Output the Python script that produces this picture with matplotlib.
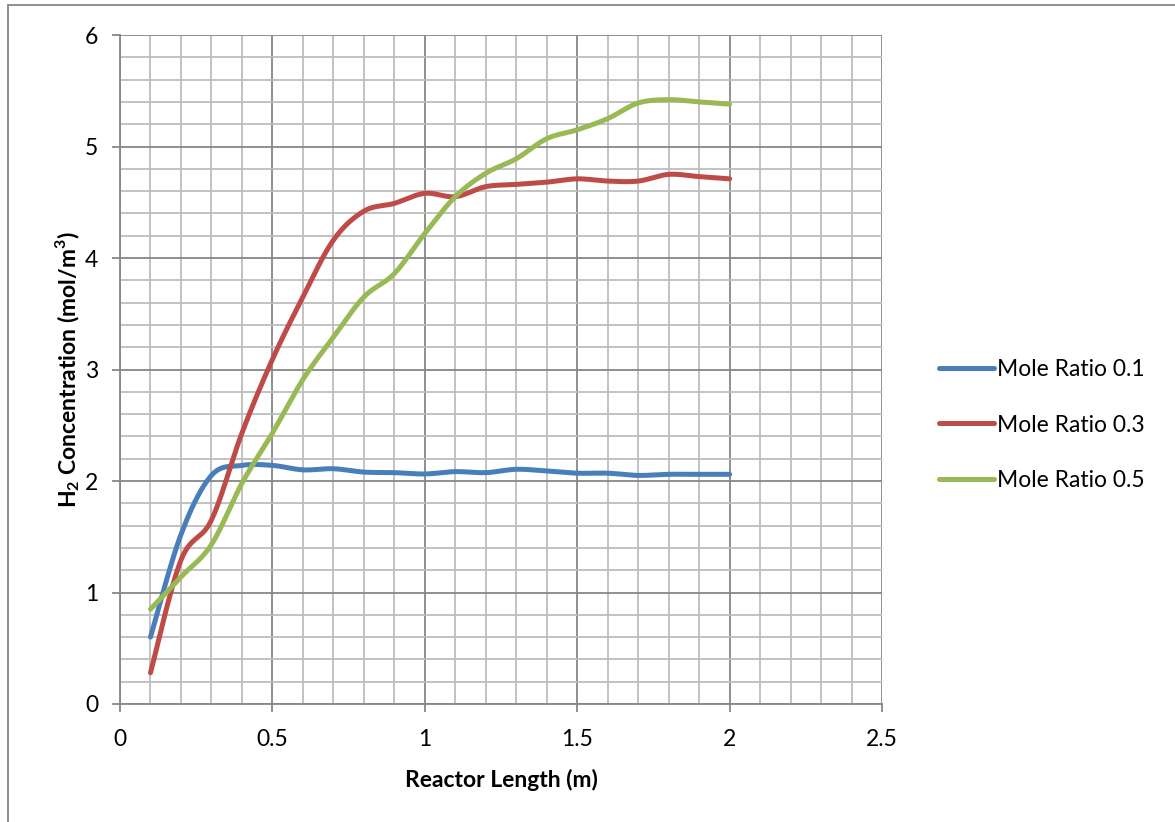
import numpy as np
import matplotlib
matplotlib.use("Agg")
import matplotlib.pyplot as plt
from matplotlib.patches import Rectangle
from matplotlib.ticker import MultipleLocator

# Reactor length positions (m)
length_m = [0.1, 0.2, 0.3, 0.4, 0.5, 0.6, 0.7, 0.8, 0.9, 1.0,
            1.1, 1.2, 1.3, 1.4, 1.5, 1.6, 1.7, 1.8, 1.9, 2.0]

# H2 concentration (mol/m3) for each feed mole ratio
ratio_01 = [0.60, 1.52, 2.05, 2.14, 2.14, 2.10, 2.11, 2.08, 2.075, 2.063,
            2.084, 2.075, 2.105, 2.09, 2.07, 2.07, 2.05, 2.06, 2.06, 2.06]
ratio_03 = [0.28, 1.29, 1.65, 2.43, 3.09, 3.65, 4.16, 4.42, 4.49, 4.58,
            4.55, 4.64, 4.66, 4.68, 4.71, 4.69, 4.69, 4.75, 4.73, 4.71]
ratio_05 = [0.85, 1.14, 1.43, 1.98, 2.43, 2.91, 3.29, 3.65, 3.86, 4.22,
            4.55, 4.76, 4.89, 5.07, 5.15, 5.25, 5.39, 5.42, 5.40, 5.38]

series_labels = ["Mole Ratio 0.1", "Mole Ratio 0.3", "Mole Ratio 0.5"]
series_colors = ["#4A7EBB", "#BE4B48", "#98B954"]

x_ticks = [0, 0.5, 1, 1.5, 2, 2.5]
x_tick_labels = ["0", "0.5", "1", "1.5", "2", "2.5"]
y_ticks = [0, 1, 2, 3, 4, 5, 6]


def smooth(x, y, n=20):
    """Catmull-Rom smoothing through the data points (spreadsheet-style smoothed line)."""
    p = np.column_stack([x, y]).astype(float)
    p = np.vstack([p[0], p, p[-1]])
    out = []
    t = np.linspace(0, 1, n, endpoint=False)[:, None]
    for i in range(1, len(p) - 2):
        p0, p1, p2, p3 = p[i - 1], p[i], p[i + 1], p[i + 2]
        c1 = p1 + (p2 - p0) / 6.0
        c2 = p2 - (p3 - p1) / 6.0
        seg = ((1 - t) ** 3) * p1 + 3 * ((1 - t) ** 2) * t * c1 + 3 * (1 - t) * t ** 2 * c2 + t ** 3 * p2
        out.append(seg)
    out.append(p[-2][None, :])
    out = np.vstack(out)
    return out[:, 0], out[:, 1]


plt.rcParams["font.family"] = ["Lato", "DejaVu Sans"]
plt.rcParams["mathtext.fontset"] = "custom"
plt.rcParams["mathtext.rm"] = "Lato"
plt.rcParams["mathtext.bf"] = "Lato:bold"

FS = 16.5

fig = plt.figure(figsize=(11.75, 8.22), dpi=100)
ax = fig.add_axes([120 / 1175, 1 - 704 / 822, (882 - 120) / 1175, (704 - 35) / 822])

grid_major = "#878787"
grid_minor = "#BDBDBD"

ax.set_xlim(0, 2.5)
ax.set_ylim(0, 6)
ax.xaxis.set_major_locator(MultipleLocator(0.5))
ax.xaxis.set_minor_locator(MultipleLocator(0.1))
ax.yaxis.set_major_locator(MultipleLocator(1))
ax.yaxis.set_minor_locator(MultipleLocator(0.2))
ax.set_xticks(x_ticks)
ax.set_xticklabels(x_tick_labels)
ax.set_yticks(y_ticks)

ax.grid(which="minor", color=grid_minor, linewidth=1.3)
ax.grid(which="major", color=grid_major, linewidth=1.3)
ax.set_axisbelow(True)

for side in ["top", "right"]:
    ax.spines[side].set_visible(False)
for side in ["left", "bottom"]:
    ax.spines[side].set_color(grid_major)
    ax.spines[side].set_linewidth(1.3)

ax.tick_params(axis="both", which="major", direction="out", length=5.8, width=1.3,
               color=grid_major, labelsize=FS, labelcolor="black")
ax.tick_params(axis="x", which="major", pad=12)
ax.tick_params(axis="y", which="major", pad=10)
ax.tick_params(axis="both", which="minor", length=0)

for vals, lab, col in zip([ratio_01, ratio_03, ratio_05], series_labels, series_colors):
    sx, sy = smooth(length_m, vals)
    ax.plot(sx, sy, color=col, linewidth=3.6, label=lab, solid_capstyle="round",
            solid_joinstyle="round", clip_on=False)

ax.set_xlabel("Reactor Length (m)", fontsize=FS, fontweight="bold", labelpad=14)
ax.set_ylabel(r"H$_\mathbf{2}$ Concentration (mol/m$^\mathbf{3}$)", fontsize=FS,
              fontweight="bold", labelpad=2)

leg = ax.legend(loc="center left", bbox_to_anchor=((939 - 120) / 762, (704 - 425) / 669),
                frameon=False, fontsize=FS, handlelength=2.4, handletextpad=0.15,
                labelspacing=1.5, borderpad=0, borderaxespad=0)

# outer chart-area border
fig.patches.append(Rectangle((8 / 1175, -0.1), 2.0, 0.1 + 1 - 5 / 822,
                             transform=fig.transFigure, fill=False,
                             edgecolor=grid_major, linewidth=1.3))

fig.savefig("out.png", dpi=100)
